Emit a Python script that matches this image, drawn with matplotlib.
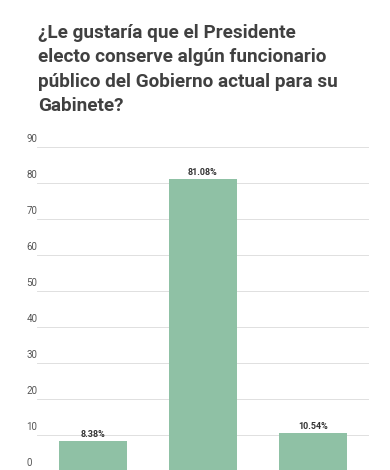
import matplotlib.pyplot as plt
from matplotlib.transforms import ScaledTranslation

# survey answers (labels not shown on chart)
answers = ["Sí", "No", "No sabe"]
shares = [8.38, 81.08, 10.54]
y_ticks = [0, 10, 20, 30, 40, 50, 60, 70, 80, 90]

title = ("¿Le gustaría que el Presidente\n"
         "electo conserve algún funcionario\n"
         "público del Gobierno actual para su\n"
         "Gabinete?")

plt.rcParams["font.family"] = ["Roboto", "DejaVu Sans"]

fig = plt.figure(figsize=(3.9, 4.7), dpi=100)
fig.patch.set_facecolor("white")

fig.text(38 / 390, 1 - 24 / 470, title, ha="left", va="top",
         fontsize=13.6, fontweight="bold", color="#404040", linespacing=1.45)

ax = fig.add_axes([37 / 390, -1 / 470, 332 / 390, 324 / 470])
xs = range(len(shares))
ax.bar(xs, shares, width=0.62, color="#8fc1a5", zorder=2)
for x, v in zip(xs, shares):
    ax.text(x, v + 0.6, f"{v:.2f}%", ha="center", va="bottom",
            fontsize=6.5, fontweight="bold", color="#333333")

ax.set_xlim(-0.51, 2.51)
ax.set_ylim(0, 90)
ax.set_xticks([])
ax.set_yticks(y_ticks)
ax.set_yticklabels([str(t) for t in y_ticks], ha="left", va="bottom",
                   fontsize=7, color="#555555")
ax.tick_params(axis="y", length=0, pad=7.5)
offset = ScaledTranslation(0, 2 / 72, fig.dpi_scale_trans)
for lbl in ax.get_yticklabels():
    lbl.set_transform(lbl.get_transform() + offset)
ax.grid(axis="y", color="#e0e0e0", linewidth=0.7, zorder=0)
for s in ax.spines.values():
    s.set_visible(False)

fig.savefig("out.png", dpi=100)
